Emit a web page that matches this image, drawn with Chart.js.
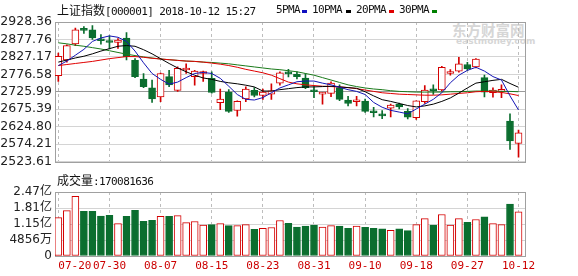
<!DOCTYPE html>
<html lang="zh-CN">
<head>
<meta charset="UTF-8">
<title>上证指数</title>
<script src="https://cdn.jsdelivr.net/npm/chart.js@4.4.0/dist/chart.umd.min.js"></script>
<style>
  body { margin:0; background:#fff; width:578px; height:276px; overflow:hidden; position:relative; }
  canvas { position:absolute; left:0; }
  #k { top:0; }
  #v { top:170px; }
  .t { position:absolute; font-family:"DejaVu Sans Mono", monospace; font-size:11px; letter-spacing:-0.6px; line-height:14px; color:#111; white-space:nowrap; }
  .cjk { font-family:"Noto Sans CJK SC", sans-serif; font-size:12px; letter-spacing:0; }
  .dash { position:absolute; width:5px; height:3px; top:10px; }
  .wm { position:absolute; color:#d6d6d6; font-family:"Noto Sans CJK SC", sans-serif; font-weight:bold; white-space:nowrap; }
</style>
</head>
<body>
<div class="wm" style="left:452px;top:19px;font-size:14.5px;">东方财富网</div>
<div class="wm" style="left:456px;top:36px;font-size:9px;font-family:'DejaVu Sans';">eastmoney.com</div>

<canvas id="k" width="578" height="172"></canvas>
<canvas id="v" width="578" height="106"></canvas>

<div class="t" style="left:57px;top:3px;"><span class="cjk">上证指数</span>[000001] 2018-10-12 15:27</div>
<div class="t" style="left:276px;top:3px;">5PMA</div>
<div class="dash" style="left:302px;background:#1010c0;"></div>
<div class="t" style="left:312px;top:3px;">10PMA</div>
<div class="dash" style="left:346px;background:#000;"></div>
<div class="t" style="left:356px;top:3px;">20PMA</div>
<div class="dash" style="left:389px;background:#e00000;"></div>
<div class="t" style="left:399px;top:3px;">30PMA</div>
<div class="dash" style="left:432px;background:#008000;"></div>
<div class="t" style="left:57px;top:173px;"><span class="cjk">成交量</span>:170081636</div>

<script>
// trading days 2018-07-20 .. 2018-10-12
var dates = ['07-20','07-23','07-24','07-25','07-26','07-27','07-30','07-31','08-01','08-02',
             '08-03','08-06','08-07','08-08','08-09','08-10','08-13','08-14','08-15','08-16',
             '08-17','08-20','08-21','08-22','08-23','08-24','08-27','08-28','08-29','08-30',
             '08-31','09-03','09-04','09-05','09-06','09-07','09-10','09-11','09-12','09-13',
             '09-14','09-17','09-18','09-19','09-20','09-21','09-25','09-26','09-27','09-28',
             '10-08','10-09','10-10','10-11','10-12'];

var opens  = [2773,2818,2865,2909,2906,2879,2873,2869,2882,2817, 2763,2737,2711,2770,2730,2789,2770,2779,2765,2694,
              2724,2672,2705,2730,2715,2719,2751,2781,2777,2766, 2729,2719,2721,2738,2702,2697,2699,2667,2660,2678,
              2690,2669,2651,2697,2733,2731,2779,2786,2805,2798, 2767,2723,2727,2641,2576];
var highs  = [2838,2862,2911,2915,2918,2892,2888,2880,2898,2822, 2779,2760,2780,2788,2798,2807,2788,2786,2784,2734,
              2732,2700,2740,2738,2734,2749,2784,2791,2784,2779, 2741,2724,2755,2746,2713,2713,2705,2681,2671,2690,
              2693,2677,2700,2744,2746,2800,2790,2826,2811,2822, 2774,2737,2746,2662,2615];
var lows   = [2756,2812,2860,2895,2878,2864,2850,2852,2818,2767, 2738,2695,2697,2741,2727,2779,2745,2756,2722,2674,
              2666,2655,2697,2711,2704,2704,2745,2769,2763,2735, 2709,2690,2712,2700,2685,2685,2666,2653,2648,2653,
              2676,2647,2646,2692,2718,2728,2774,2783,2788,2795, 2711,2710,2709,2559,2536];
var closes = [2829,2860,2906,2904,2882,2874,2869,2876,2828,2770, 2741,2705,2779,2746,2794,2792,2786,2782,2724,2705,
              2669,2698,2734,2715,2725,2729,2781,2778,2770,2738, 2726,2721,2751,2704,2692,2702,2669,2665,2656,2687,
              2682,2652,2700,2731,2729,2797,2781,2807,2792,2821, 2725,2731,2729,2583,2607];

var ma5  = [2802,2815,2832,2849,2872,2882,2888,2884,2872,2844, 2810,2779,2762,2748,2754,2767,2779,2782,2779,2765,
            2742,2718,2704,2702,2709,2723,2737,2746,2755,2757, 2757,2751,2746,2739,2732,2727,2718,2695,2681,2672,
            2667,2662,2676,2690,2704,2723,2752,2774,2788,2797, 2786,2770,2760,2714,2673];
var ma10 = [2812,2818,2824,2829,2836,2844,2851,2858,2860,2858, 2848,2836,2822,2808,2795,2784,2774,2766,2762,2756,
            2752,2749,2745,2740,2728,2728,2732,2735,2738,2740, 2740,2741,2742,2740,2738,2736,2726,2714,2703,2698,
            2692,2686,2682,2685,2690,2698,2708,2722,2737,2751, 2755,2759,2762,2750,2739];
var ma20 = [2802,2805,2808,2811,2814,2818,2822,2825,2828,2828, 2826,2823,2821,2819,2817,2815,2814,2812,2809,2806,
            2802,2797,2791,2786,2781,2774,2764,2754,2749,2746, 2744,2742,2741,2740,2738,2735,2731,2727,2723,2721,
            2719,2718,2717,2716,2716,2717,2719,2721,2723,2726, 2727,2726,2724,2720,2715];
var ma30 = [2868,2865,2861,2858,2854,2850,2845,2840,2835,2831, 2827,2824,2821,2819,2817,2815,2814,2812,2811,2809,
            2807,2804,2801,2798,2795,2792,2790,2787,2784,2779, 2774,2767,2760,2753,2746,2741,2737,2734,2732,2729,
            2727,2726,2725,2725,2725,2725,2726,2726,2727,2728, 2728,2728,2727,2727,2726];

// volume, in 亿 shares
var vols = [1.48,1.75,2.30,1.72,1.72,1.54,1.57,1.25,1.53,1.76, 1.34,1.38,1.53,1.53,1.56,1.29,1.33,1.19,1.21,1.25,
            1.17,1.17,1.21,1.03,1.07,1.10,1.37,1.26,1.12,1.15, 1.19,1.12,1.17,1.15,1.07,1.15,1.11,1.07,1.05,0.99,
            1.05,0.98,1.21,1.44,1.19,1.60,1.19,1.44,1.30,1.41, 1.51,1.25,1.21,2.00,1.70];

var priceTicks = [2523.61,2574.21,2624.80,2675.39,2725.99,2776.58,2827.17,2877.76,2928.36];
var volTicks = [0,0.6175,1.235,1.8525,2.47];
var volTickLabels = ['0','4856万','1.15亿','1.81亿','2.47亿'];
var gridDays = [0,6,12,18,24,30,36,42,48,54];

var RED = '#d40000', GREEN = '#0b6e2f';
var idx = closes.map(function(_, i) { return i; });
function up(i) { return closes[i] >= opens[i]; }

function xAxis() {
  return {
    type: 'linear', min: -0.39, max: 54.76, offset: false,
    afterBuildTicks: function(s) { s.ticks = gridDays.map(function(v) { return {value: v}; }); },
    afterFit: function(s) { s.height = 0; },
    ticks: {display: false},
    grid: {color: '#bdbdbd', drawTicks: false, offset: false},
    border: {display: false, dash: [3, 3]}
  };
}

var frame = {
  id: 'frame',
  beforeDatasetsDraw: function(chart) {
    var ctx = chart.ctx, a = chart.chartArea;
    ctx.save();
    ctx.strokeStyle = '#a0a0a0';
    ctx.lineWidth = 1;
    ctx.strokeRect(Math.round(a.left) + 0.5, Math.round(a.top) + 0.5,
                   Math.round(a.right - a.left), Math.round(a.bottom - a.top));
    ctx.restore();
  }
};

var dateLabels = {
  id: 'dateLabels',
  afterDraw: function(chart) {
    var ctx = chart.ctx, x = chart.scales.x;
    ctx.save();
    ctx.fillStyle = '#cc0000';
    ctx.font = '11px "DejaVu Sans Mono"';
    ctx.textBaseline = 'middle';
    gridDays.forEach(function(d, k) {
      ctx.textAlign = k === 0 ? 'left' : 'center';
      ctx.fillText(dates[d], x.getPixelForValue(d), 96);
    });
    ctx.restore();
  }
};

function maLine(arr, color) {
  return {
    type: 'line', order: 0,
    data: arr.map(function(v, i) { return {x: i, y: v}; }),
    borderColor: color, borderWidth: 1, pointRadius: 0, tension: 0
  };
}

var tickFont = {family: '"DejaVu Sans", "Noto Sans CJK SC"', size: 12.5};
var volFont = {family: '"DejaVu Sans", "Noto Sans CJK SC"', size: 12};

new Chart(document.getElementById('k'), {
  type: 'bar',
  data: {
    datasets: [
      maLine(ma5, '#1414b4'),
      maLine(ma10, '#000000'),
      maLine(ma20, '#e00000'),
      maLine(ma30, '#1a7a1a'),
      {
        order: 1, grouped: false, barThickness: 7, minBarLength: 2, borderSkipped: false, borderWidth: 1,
        data: idx.map(function(i) { return {x: i, y: [opens[i], closes[i]]}; }),
        backgroundColor: idx.map(function(i) { return up(i) ? '#ffffff' : GREEN; }),
        borderColor: idx.map(function(i) { return up(i) ? RED : GREEN; })
      },
      {
        order: 2, grouped: false, barThickness: 1, borderSkipped: false,
        data: idx.map(function(i) { return {x: i, y: [lows[i], highs[i]]}; }),
        backgroundColor: idx.map(function(i) { return up(i) ? RED : GREEN; })
      }
    ]
  },
  options: {
    responsive: false, animation: false, events: [],
    layout: {padding: {top: 22, right: 53, bottom: 6, left: 0}},
    plugins: {legend: {display: false}, tooltip: {enabled: false}},
    scales: {
      x: xAxis(),
      y: {
        min: 2523.61, max: 2928.36,
        afterBuildTicks: function(s) { s.ticks = priceTicks.map(function(v) { return {value: v}; }); },
        afterFit: function(s) { s.width = 55; },
        ticks: {autoSkip: false, padding: 3, color: '#222', font: tickFont, callback: function(v) { return v.toFixed(2); }},
        grid: {drawTicks: false, color: function(c) { return c.index === 4 ? '#9a9a9a' : '#d4d4d4'; }},
        border: {display: false}
      }
    }
  },
  plugins: [frame]
});

new Chart(document.getElementById('v'), {
  type: 'bar',
  data: {
    datasets: [{
      grouped: false, barThickness: 7, borderSkipped: false, borderWidth: 1,
      data: vols.map(function(v, i) { return {x: i, y: v}; }),
      backgroundColor: idx.map(function(i) { return up(i) ? '#ffffff' : GREEN; }),
      borderColor: idx.map(function(i) { return up(i) ? RED : GREEN; })
    }]
  },
  options: {
    responsive: false, animation: false, events: [],
    layout: {padding: {top: 22, right: 53, bottom: 20, left: 0}},
    plugins: {legend: {display: false}, tooltip: {enabled: false}},
    scales: {
      x: xAxis(),
      y: {
        min: 0, max: 2.47,
        afterBuildTicks: function(s) { s.ticks = volTicks.map(function(v) { return {value: v}; }); },
        afterFit: function(s) { s.width = 55; },
        ticks: {autoSkip: false, padding: 3, color: '#222', font: volFont, callback: function(v, i) { return volTickLabels[i]; }},
        grid: {drawTicks: false, color: '#d4d4d4'},
        border: {display: false}
      }
    }
  },
  plugins: [frame, dateLabels]
});
</script>
</body>
</html>
